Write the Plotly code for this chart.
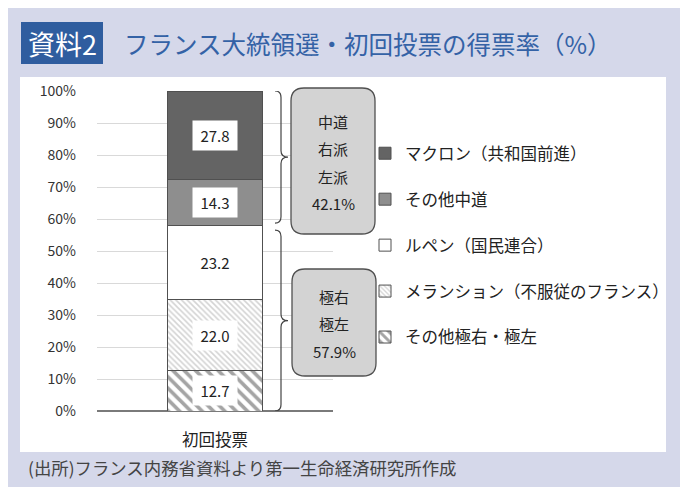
import plotly.graph_objects as go

# ---------------- data ----------------
categories = ["初回投票"]
series_names = [
    "その他極右・極左",
    "メランション（不服従のフランス）",
    "ルペン（国民連合）",
    "その他中道",
    "マクロン（共和国前進）",
]
series_values = [12.7, 22.0, 23.2, 14.3, 27.8]
tick_values = [0, 10, 20, 30, 40, 50, 60, 70, 80, 90, 100]
tick_labels = [f"{v}%" for v in tick_values]
center_group = [3, 4]           # indices: centre / right / left parties
extreme_group = [0, 1, 2]       # indices: far right / far left
center_words = ["中道", "右派", "左派"]
extreme_words = ["極右", "極左"]
title_tag = "資料2"
title_text = "フランス大統領選・初回投票の得票率（%）"
source_text = "(出所)フランス内務省資料より第一生命経済研究所作成"

# ---------------- styles ----------------
FONT = "Noto Sans CJK JP"
S = 8                              # page body margin offset
W, H = 688 - S, 494 - S
L, R, T, B = 97, 333, 91, 411      # plot area in screen pixels
styles = [
    dict(color="white", pattern=dict(shape="\\", fgcolor="#4a4a4a", bgcolor="white", size=8, solidity=0.45)),
    dict(color="white", pattern=dict(shape="\\", fgcolor="#a8a8a8", bgcolor="white", size=4, solidity=0.4)),
    dict(color="white"),
    dict(color="#8e8e8e"),
    dict(color="#646464"),
]


def px(x):
    return (x - L) / (R - L)


def py(y):
    return (B - y) / (B - T)


fig = go.Figure()
n = len(series_names)
for i, (name, val) in enumerate(zip(series_names, series_values)):
    m = dict(styles[i])
    m["line"] = dict(color="#505050", width=1)
    fig.add_trace(go.Bar(
        x=categories, y=[val], name=name, marker=m, width=0.4,
        legendgroup=f"g{i}", legendrank=n - i, hoverinfo="skip",
    ))

# cumulative positions
cum = []
s = 0
for v in series_values:
    cum.append((s, s + v))
    s += v

annotations = []
shapes = []

# lavender frame + white panel
shapes.append(dict(type="rect", xref="paper", yref="paper", layer="below",
                   x0=px(4), x1=px(682), y0=py(487), y1=py(5),
                   fillcolor="#d5d8ea", line=dict(width=0)))
shapes.append(dict(type="rect", xref="paper", yref="paper", layer="below",
                   x0=px(20), x1=px(666), y0=py(452), y1=py(77),
                   fillcolor="white", line=dict(width=0)))
# title tag box
shapes.append(dict(type="rect", xref="paper", yref="paper",
                   x0=px(21), x1=px(103), y0=py(64), y1=py(22),
                   fillcolor="#2f5d9f", line=dict(width=0)))
annotations.append(dict(xref="paper", yref="paper", x=px(62), y=py(43), text=title_tag,
                        xanchor="center", yanchor="middle", showarrow=False,
                        font=dict(family=FONT, size=27, color="white")))
annotations.append(dict(xref="paper", yref="paper", x=px(122), y=py(43), text=title_text,
                        xanchor="left", yanchor="middle", showarrow=False,
                        font=dict(family=FONT, size=24.5, color="#3462a6")))
annotations.append(dict(xref="paper", yref="paper", x=px(26), y=py(467), text=source_text,
                        xanchor="left", yanchor="middle", showarrow=False,
                        font=dict(family=FONT, size=17.4, color="#444444")))

# value labels in white boxes
for (a, b), v in zip(cum, series_values):
    annotations.append(dict(x=categories[0], y=(a + b) / 2, text=f"{v:.1f}", showarrow=False,
                            xanchor="center", yanchor="middle",
                            bgcolor="white", width=42, height=27, borderpad=1,
                            font=dict(family=FONT, size=15, color="#222222")))


def brace(y_top, y_bot):
    x0, xm, x1 = px(275), px(281), px(288)
    r = 2.0
    mid = (y_top + y_bot) / 2
    return (f"M{x0},{y_top} Q{xm},{y_top} {xm},{y_top - r} L{xm},{mid + r} "
            f"Q{xm},{mid} {x1},{mid} Q{xm},{mid} {xm},{mid - r} "
            f"L{xm},{y_bot + r} Q{xm},{y_bot} {x0},{y_bot}")


def rounded(x0p, y0p, x1p, y1p, rad=13):
    rx, ry = rad / (R - L), rad / (B - T)
    X0, X1 = px(x0p), px(x1p)
    Yt, Yb = py(y0p), py(y1p)
    return (f"M{X0 + rx},{Yt} L{X1 - rx},{Yt} Q{X1},{Yt} {X1},{Yt - ry} "
            f"L{X1},{Yb + ry} Q{X1},{Yb} {X1 - rx},{Yb} L{X0 + rx},{Yb} "
            f"Q{X0},{Yb} {X0},{Yb + ry} L{X0},{Yt - ry} Q{X0},{Yt} {X0 + rx},{Yt} Z")


c_top = max(cum[i][1] for i in center_group)
c_bot = min(cum[i][0] for i in center_group)
e_top = max(cum[i][1] for i in extreme_group)
e_bot = min(cum[i][0] for i in extreme_group)
center_total = sum(series_values[i] for i in center_group)
extreme_total = sum(series_values[i] for i in extreme_group)

shapes.append(dict(type="path", xref="paper", yref="y", path=brace(c_top, c_bot + 0.8),
                   line=dict(color="#444444", width=1.2)))
shapes.append(dict(type="path", xref="paper", yref="y", path=brace(e_top - 1.4, e_bot),
                   line=dict(color="#444444", width=1.2)))

shapes.append(dict(type="path", xref="paper", yref="paper", path=rounded(291, 88, 375, 234),
                   fillcolor="#d3d3d3", line=dict(color="#505050", width=1.3)))
shapes.append(dict(type="path", xref="paper", yref="paper", path=rounded(292, 269, 376, 376),
                   fillcolor="#d3d3d3", line=dict(color="#505050", width=1.3)))

for k, txt in enumerate(center_words + [f"{center_total:.1f}%"]):
    annotations.append(dict(xref="paper", yref="paper", x=px(333), y=py(121 + 27.5 * k), text=txt,
                            xanchor="center", yanchor="middle", showarrow=False,
                            font=dict(family=FONT, size=15, color="#222222")))
for k, txt in enumerate(extreme_words + [f"{extreme_total:.1f}%"]):
    annotations.append(dict(xref="paper", yref="paper", x=px(334), y=py(296 + 27.5 * k), text=txt,
                            xanchor="center", yanchor="middle", showarrow=False,
                            font=dict(family=FONT, size=15, color="#222222")))

fig.update_layout(
    width=W, height=H,
    margin=dict(l=L - S, r=W - (R - S), t=T - S, b=H - (B - S), pad=0),
    paper_bgcolor="white", plot_bgcolor="white",
    barmode="stack",
    showlegend=True,
    legend=dict(x=px(365), y=py(136), xanchor="left", yanchor="top",
                traceorder="grouped", tracegroupgap=21.5,
                font=dict(family=FONT, size=16.5, color="#222222"),
                bgcolor="rgba(0,0,0,0)", itemclick=False, itemdoubleclick=False),
    xaxis=dict(showgrid=False, showline=False, ticks="", ticklabelstandoff=17,
               tickfont=dict(family=FONT, size=16.5, color="#222222")),
    yaxis=dict(range=[0, 100], tickvals=tick_values, ticktext=tick_labels,
               showgrid=True, gridcolor="#d9d9d9", gridwidth=1,
               zeroline=True, zerolinecolor="#7a7a7a", zerolinewidth=1.5,
               showline=False, ticks="", ticklabelstandoff=20,
               tickfont=dict(family=FONT, size=14, color="#333333")),
    shapes=shapes,
    annotations=annotations,
    font=dict(family=FONT),
)

fig.write_html("out.html")
